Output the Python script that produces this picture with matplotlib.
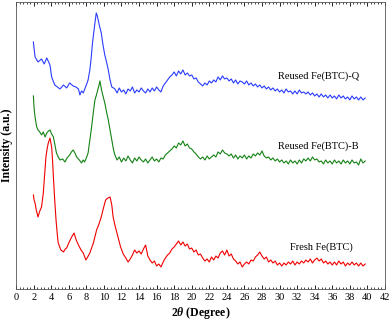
import numpy as np
import matplotlib.pyplot as plt
from matplotlib.ticker import MultipleLocator

# values (arbitrary intensity units)
# peak region read point by point, flat tail read on a 0.25 degree grid
x_q_head = [1.97, 2.16, 2.5, 2.9, 3.2, 3.5, 3.86, 4.05, 4.4, 4.7, 5.0, 5.4, 5.76, 6.1, 6.5, 6.8, 7.1, 7.27, 7.45, 7.65,
            8.0, 8.2, 8.4, 8.55, 8.7, 8.85, 8.98, 9.13, 9.25, 9.35, 9.5, 9.7, 9.9, 10.1, 10.3, 10.5, 10.7, 10.9, 11.1]
y_q_head = [248, 233, 228, 231, 226, 232, 225, 213, 205, 203, 201, 205, 202, 207, 204, 203, 201, 195, 199, 197,
            205, 210, 220, 232, 247, 258, 267, 277, 274, 270, 264, 257, 245, 235, 228, 220, 210, 203, 202]
y_q_tail = [201, 197, 202, 198, 200, 196, 201, 199, 203, 197, 200, 198, 202, 199, 197, 201, 198, 202, 199, 203, 200, 198,
            204, 207, 210, 213,
            215, 218, 214, 219, 216, 220, 215, 217, 214,
            215, 211, 212, 208, 206,
            204, 207, 205, 209, 207,
            210, 208, 213, 210, 214, 211, 212,
            209, 211, 207, 210, 206, 209,
            208, 206, 209, 205, 207, 204,
            206, 203, 205, 202, 204, 201,
            203, 200, 202, 199, 201, 198,
            200, 197, 201, 198, 199, 196,
            199, 196, 200, 197, 198, 196,
            198, 195, 197, 194, 196, 193,
            196, 193, 195, 192, 195, 192,
            194, 191, 195, 192, 194, 191,
            193, 190, 194, 191, 193, 190,
            193, 190, 192]

x_b_head = [1.97, 2.05, 2.16, 2.35, 2.5, 2.7, 2.9, 3.1, 3.3, 3.5, 3.7, 3.86, 4.05, 4.25, 4.45, 4.6, 4.8, 5.0, 5.3, 5.57,
            5.8, 6.1, 6.3, 6.5, 6.7, 6.9, 7.2, 7.45, 7.65, 7.8, 8.0, 8.2, 8.4, 8.6, 8.8, 8.98, 9.15, 9.3, 9.45, 9.55,
            9.65, 9.73, 9.9, 10.1, 10.3, 10.5, 10.7, 10.9, 11.1]
y_b_head = [194, 182, 173, 163, 160, 158, 155, 158, 153, 157, 159, 160, 156, 153, 144, 137, 133, 130, 131, 128,
            132, 135, 138, 140, 137, 133, 130, 127, 130, 128, 132, 137, 150, 163, 178, 190, 195, 200, 205, 209,
            204, 200, 194, 187, 178, 170, 160, 150, 140]
y_b_tail = [135, 130, 133, 128, 132, 129, 134, 130, 127, 132, 129, 133, 130, 128, 131, 127, 130, 133, 129, 131, 128, 132,
            131, 135, 137, 139,
            141, 144, 142, 147, 145, 149, 144, 146, 142,
            141, 138, 136, 133, 131,
            133, 130, 134, 131, 133,
            135, 133, 138, 136, 140, 137, 136,
            134, 136, 132, 135, 131, 134,
            132, 135, 131, 134, 132, 136,
            134, 137, 135, 139, 134, 132,
            133, 130, 132, 129, 131, 128,
            130, 127, 129, 126, 130, 127,
            129, 126, 130, 127, 131, 129,
            132, 129, 133, 130, 131, 128,
            129, 126, 130, 127, 129, 126,
            130, 127, 129, 126, 130, 127,
            129, 126, 130, 127, 128, 125,
            131, 127, 129]

x_f_head = [1.97, 2.05, 2.16, 2.3, 2.5, 2.7, 2.9, 3.1, 3.25, 3.4, 3.55, 3.67, 3.86, 4.05, 4.15, 4.25, 4.4, 4.55, 4.7, 4.8,
            5.1, 5.4, 5.6, 5.76, 6.05, 6.33, 6.6, 6.85, 7.1, 7.4, 7.65, 7.95, 8.15, 8.4, 8.8, 9.17, 9.4, 9.7, 9.95, 10.2,
            10.45, 10.7, 10.9, 11.05, 11.25, 11.6, 11.9, 12.2]
y_f_head = [95, 90, 87, 80, 73, 79, 83, 97, 115, 133, 142, 147, 152, 143, 130, 113, 90, 70, 55, 47,
            40, 38, 41, 42, 48, 53, 57, 50, 45, 40, 37, 30, 33, 37, 47, 60, 65, 73, 82, 90,
            92, 93, 85, 73, 65, 53, 43, 36]
y_f_tail = [32, 28, 31,
            35, 40, 37, 39, 36, 41, 45, 34, 30, 27, 29, 24, 26, 23, 28, 32,
            35, 37, 41, 43, 46, 49, 45, 48, 44, 46, 41, 42, 38, 40, 35, 36,
            32, 29, 31, 28, 33, 30, 34, 32, 37, 39, 35, 40, 34, 36, 31, 29,
            26, 28, 23, 26, 28, 26, 30, 29, 33, 35, 38, 34, 31, 33, 28, 30,
            27, 29, 25, 27, 24, 27, 25, 28, 26, 29, 25, 28, 26, 29, 27, 30,
            28, 31, 27, 30, 32, 29, 31, 27, 29, 26, 28, 25, 28, 25, 29, 26,
            28, 24, 27, 25, 28, 25, 27, 24,
            27, 24, 26]

x_q = x_q_head + list(np.arange(11.25, 39.76, 0.25))
y_q = y_q_head + y_q_tail
x_b = x_b_head + list(np.arange(11.25, 39.76, 0.25))
y_b = y_b_head + y_b_tail
x_f = x_f_head + list(np.arange(12.5, 39.76, 0.25))
y_f = y_f_head + y_f_tail

labels = ['Reused Fe(BTC)-Q', 'Reused Fe(BTC)-B', 'Fresh Fe(BTC)']

plt.rcParams['font.family'] = ['Liberation Serif', 'DejaVu Serif']
plt.rcParams['mathtext.fontset'] = 'custom'
plt.rcParams['mathtext.it'] = 'Liberation Serif:italic:bold'
plt.rcParams['mathtext.rm'] = 'Liberation Serif:bold'

fig = plt.figure(figsize=(3.92, 3.24), dpi=100)
ax = fig.add_axes([0.041, 0.108, 0.941, 0.886])

ax.plot(x_q, y_q, color='#2a3cff', lw=0.8)
ax.plot(x_b, y_b, color='#148214', lw=0.8)
ax.plot(x_f, y_f, color='#f00000', lw=0.8)

ax.text(34.4, 214, labels[0], fontsize=7.5, ha='center', va='center')
ax.text(34.4, 144, labels[1], fontsize=7.5, ha='center', va='center')
ax.text(34.8, 43, labels[2], fontsize=7.5, ha='center', va='center')

ax.set_xlim(0, 42)
ax.set_ylim(1, 288)
ax.xaxis.set_major_locator(MultipleLocator(2))
ax.xaxis.set_minor_locator(MultipleLocator(0.4))
ax.tick_params(axis='x', which='both', direction='in', top=True, labelsize=7.5, pad=3)
ax.tick_params(axis='x', which='major', length=3, width=0.6)
ax.tick_params(axis='x', which='minor', length=1.5, width=0.5)
ax.set_yticks([])
for s in ax.spines.values():
    s.set_linewidth(0.6)
    s.set_color('#555555')

ax.set_xlabel(r'2$\theta$ (Degree)', fontsize=8.5, fontweight='bold', labelpad=2)
ax.set_ylabel('Intensity (a.u.)', fontsize=8.5, fontweight='bold', labelpad=2)

fig.savefig('out.png', dpi=100)
